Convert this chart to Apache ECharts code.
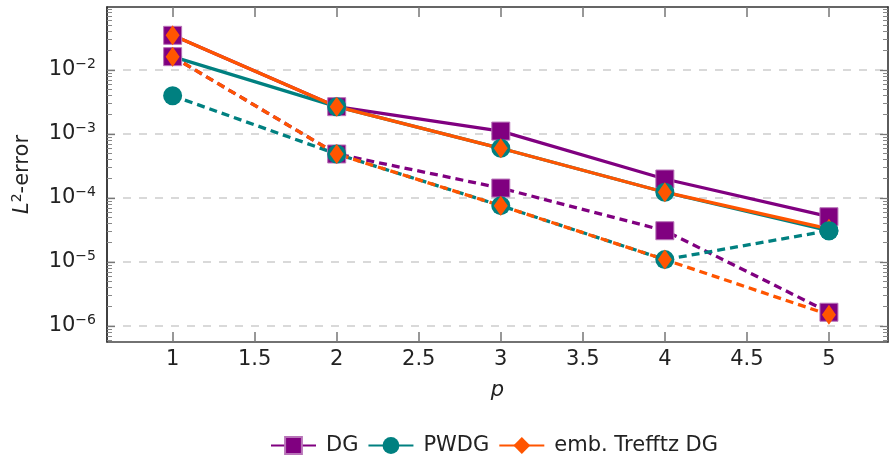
<!DOCTYPE html>
<html><head><meta charset="utf-8">
<script src="https://cdn.jsdelivr.net/npm/echarts@6/dist/echarts.min.js"></script>
<style>html,body{margin:0;padding:0;background:#fff}#c{width:890px;height:456px}</style>
</head><body><div id="c"></div>
<script>
// ---- data ----
const pValues = [1, 2, 3, 4, 5];
const dgSolid       = [0.0348, 0.00267, 0.00111, 1.98e-4, 5.1e-5];
const pwdgSolid     = [0.01615, 0.00267, 5.98e-4, 1.23e-4, 3.08e-5];
const trefftzSolid  = [0.0348, 0.00267, 5.98e-4, 1.23e-4, 3.3e-5];
const dgDashed      = [0.01615, 4.87e-4, 1.43e-4, 3.08e-5, 1.64e-6];
const pwdgDashed    = [0.00396, 4.87e-4, 7.59e-5, 1.09e-5, 3.08e-5];
const trefftzDashed = [0.01615, 4.87e-4, 7.59e-5, 1.09e-5, 1.5e-6];
const seriesNames = ['DG', 'PWDG', 'emb. Trefftz DG'];
const xTickLabels = [1, 1.5, 2, 2.5, 3, 3.5, 4, 4.5, 5];
const yDecadeTicks = [1e-6, 1e-5, 1e-4, 1e-3, 1e-2];

const X_MIN = 0.6, X_MAX = 5.36;
const Y_MIN = Math.pow(10, -6.25), Y_MAX = Math.pow(10, -1.016);
const yMinorTicks = [];
for (let e = -7; e <= -2; e++) {
  for (let k = 2; k <= 9; k++) {
    const v = k * Math.pow(10, e);
    if (v > Y_MIN && v < Y_MAX) yMinorTicks.push(v);
  }
}

const FONT = 'DejaVu Sans';
const C_DG = '#800080', C_PW = '#008080', C_TR = '#ff5500';

function pairs(arr) { return pValues.map((p, i) => [p, arr[i]]); }
function mk(name, arr, color, symbol, size, dashed, itemExtra) {
  return {
    name: name, type: 'line', data: pairs(arr),
    symbol: symbol, symbolSize: size,
    lineStyle: { color: color, width: 3.3, type: dashed ? [8, 5] : 'solid' },
    itemStyle: Object.assign({ color: color }, itemExtra || {}),
    emphasis: { disabled: true }, silent: true, animation: false
  };
}
const sqStyle = { borderColor: '#b874b8', borderWidth: 1 };

const supRich = {
  a: { fontFamily: FONT, fontSize: 21, lineHeight: 26, color: '#222' },
  b: { fontFamily: FONT, fontSize: 14, lineHeight: 14, verticalAlign: 'top', color: '#222' }
};

const xCommon = {
  type: 'value', min: X_MIN, max: X_MAX,
  splitLine: { show: false },
  axisTick: { inside: true, length: 10, customValues: xTickLabels, lineStyle: { color: '#777', width: 1.5 } }
};
const yCommon = { type: 'log', logBase: 10, min: Y_MIN, max: Y_MAX };

const option = {
  animation: false,
  backgroundColor: '#fff',
  grid: { left: 107, right: 2, top: 7, bottom: 114, containLabel: false, outerBoundsMode: 'none' },
  legend: {
    data: seriesNames,
    left: 270, top: 435, padding: 0,
    itemWidth: 45, itemHeight: 21, itemGap: 9,
    formatter: n => '{t|' + n + '}',
    textStyle: { rich: { t: { fontFamily: FONT, fontSize: 21, color: '#222', padding: [0, 0, 0, 5] } } },
    selectedMode: false
  },
  xAxis: [
    Object.assign({}, xCommon, {
      position: 'bottom',
      axisLine: { show: true, lineStyle: { color: '#444', width: 1.6 } },
      axisLabel: { customValues: xTickLabels, margin: 7, fontFamily: FONT, fontSize: 21, color: '#222',
                   formatter: v => String(v) },
      name: 'p', nameLocation: 'middle', nameGap: 38,
      nameTextStyle: { fontFamily: FONT, fontSize: 21, fontStyle: 'italic', color: '#222' }
    }),
    Object.assign({}, xCommon, {
      position: 'top',
      axisLine: { show: true, lineStyle: { color: '#333', width: 1.6 } },
      axisLabel: { show: false }
    })
  ],
  yAxis: [
    Object.assign({}, yCommon, {
      position: 'left',
      axisLine: { show: true, lineStyle: { color: '#111', width: 1.6 } },
      axisTick: { inside: true, length: 8, customValues: yDecadeTicks, lineStyle: { color: '#777', width: 1.3 } },
      splitLine: { show: true, lineStyle: { color: '#d9d9d9', width: 2, type: [8, 8] } },
      minorTick: { show: false }, minorSplitLine: { show: false },
      axisLabel: { customValues: yDecadeTicks, margin: 11,
        formatter: v => '{a|10}{b|\u2212' + Math.abs(Math.round(Math.log10(v))) + '}', rich: supRich },
      name: '{i|L}{s|2}{n|-error}', nameLocation: 'middle', nameGap: 71,
      nameTextStyle: { rich: {
        i: { fontFamily: FONT, fontSize: 21, fontStyle: 'italic', lineHeight: 26, color: '#222' },
        s: { fontFamily: FONT, fontSize: 14, lineHeight: 14, verticalAlign: 'top', color: '#222' },
        n: { fontFamily: FONT, fontSize: 21, lineHeight: 26, color: '#222' } } }
    }),
    Object.assign({}, yCommon, {
      position: 'left',
      axisLine: { show: false },
      axisTick: { inside: true, length: 5, customValues: yMinorTicks, lineStyle: { color: '#888', width: 1 } },
      splitLine: { show: false },
      axisLabel: { show: false }
    }),
    Object.assign({}, yCommon, {
      position: 'right',
      axisLine: { show: true, lineStyle: { color: '#333', width: 1.6 } },
      axisTick: { inside: true, length: 8, customValues: yDecadeTicks, lineStyle: { color: '#777', width: 1.3 } },
      splitLine: { show: false },
      axisLabel: { show: false }
    }),
    Object.assign({}, yCommon, {
      position: 'right',
      axisLine: { show: false },
      axisTick: { inside: true, length: 5, customValues: yMinorTicks, lineStyle: { color: '#888', width: 1 } },
      splitLine: { show: false },
      axisLabel: { show: false }
    })
  ],
  series: [
    mk(seriesNames[0], dgSolid, C_DG, 'rect', 18, false, sqStyle),
    mk(seriesNames[1], pwdgSolid, C_PW, 'circle', 19, false),
    mk(seriesNames[2], trefftzSolid, C_TR, 'diamond', [14, 20], false),
    mk(seriesNames[0], dgDashed, C_DG, 'rect', 18, true, sqStyle),
    mk(seriesNames[1], pwdgDashed, C_PW, 'circle', 19, true),
    mk(seriesNames[2], trefftzDashed, C_TR, 'diamond', [14, 20], true)
  ]
};

const chart = echarts.init(document.getElementById('c'), null, { renderer: 'canvas' });
chart.setOption(option);
</script>
</body></html>
